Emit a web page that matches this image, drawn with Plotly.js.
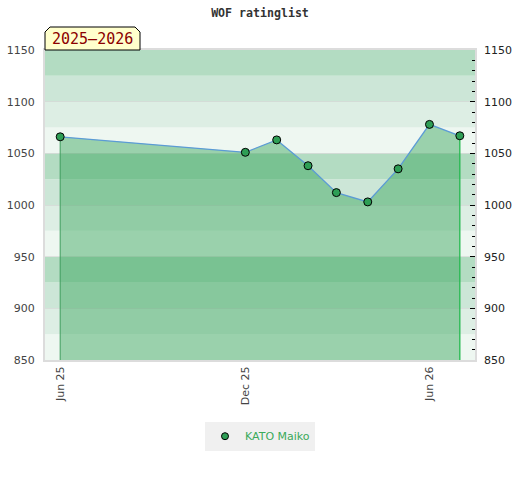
<!DOCTYPE html>
<html>
<head>
<meta charset="utf-8">
<script src="https://cdn.plot.ly/plotly-3.0.1.min.js"></script>
<style>html,body{margin:0;padding:0;background:#fff}#chart{width:520px;height:480px}</style>
</head>
<body>
<div id="chart"></div>
<script>
// ---- data ----
const playerName = "KATO Maiko";
const chartTitle = "WOF ratinglist";
const seasonLabel = "2025\u20132026";
const dates = ["2025-06-01","2025-12-01","2026-01-01","2026-02-01","2026-03-01","2026-04-01","2026-05-01","2026-06-01","2026-07-01"];
const ratings = [1066, 1051, 1063, 1038, 1012, 1003, 1035, 1078, 1067];
const yTickVals = [850, 900, 950, 1000, 1050, 1100, 1150];
const xTickVals = ["2025-06-01","2025-12-01","2026-06-01"];
const xTickText = ["Jun 25","Dec 25","Jun 26"];

// ---- style ----
const yMin = 850, yMax = 1150, bandStep = 25;
const bandColors = ["#eef7f1", "#ddeee4", "#cce6d7", "#b3dcc2"];
const shapes = [];
let k = 0;
for (let v = yMin; v < yMax; v += bandStep, k++) {
  shapes.push({type:"rect", xref:"paper", yref:"y", x0:0, x1:1, y0:v, y1:v+bandStep,
    fillcolor: bandColors[k % 4], line:{width:0}, layer:"below"});
}
// season label box with cut top corners (paper coords)
const bw = 95/430, bh = 23/310, c = 5/430, cy = 5/310;
shapes.push({type:"path", xref:"paper", yref:"paper",
  path:`M 0 1 L 0 ${1+bh-cy} L ${c} ${1+bh} L ${bw-c} ${1+bh} L ${bw} ${1+bh-cy} L ${bw} 1 Z`,
  fillcolor:"#ffffcc", line:{color:"#000", width:1}, layer:"above"});

const n = dates.length;
const traces = [
  { x: dates, y: ratings, type:"scatter", mode:"lines",
    fill:"tozeroy", fillcolor:"rgba(48,161,85,0.44)",
    line:{color:"#5b9bd5", width:1.3},
    showlegend:false, hoverinfo:"x+y" },
  { x:[dates[0], dates[0]], y:[yMin, ratings[0]], type:"scatter", mode:"lines",
    line:{color:"#3f9e5e", width:1}, showlegend:false, hoverinfo:"skip" },
  { x:[dates[n-1], dates[n-1]], y:[yMin, ratings[n-1]], type:"scatter", mode:"lines",
    line:{color:"#22b84e", width:1.3}, showlegend:false, hoverinfo:"skip" },
  { x: dates, y: ratings, type:"scatter", mode:"markers",
    marker:{color:"#2e9e55", size:8, line:{color:"#000", width:1}},
    showlegend:false, hoverinfo:"skip" },
  { x:[null], y:[null], type:"scatter", mode:"markers", name: playerName,
    marker:{color:"#2e9e55", size:7, line:{color:"#000", width:1}} },
  { x: dates, y: ratings, yaxis:"y2", type:"scatter", mode:"none",
    showlegend:false, hoverinfo:"skip" }
];

const layout = {
  width:520, height:480,
  margin:{l:45, r:45, t:50, b:120},
  paper_bgcolor:"#fff", plot_bgcolor:"#fff",
  title:{text:chartTitle, x:0.5, xanchor:"center", y:1-13/480, yanchor:"middle",
    font:{family:"DejaVu Sans Mono", size:11.6, color:"#333", weight:"bold"}},
  xaxis:{type:"date", range:["2025-05-17","2026-07-16"],
    tickvals:xTickVals, ticktext:xTickText, tickangle:-90,
    tickfont:{family:"DejaVu Sans", size:11, color:"#444"},
    showgrid:false, zeroline:false, ticks:"",
    showline:true, mirror:true, linecolor:"#dcdcdc", linewidth:2},
  yaxis:{range:[yMin, yMax], tickvals:yTickVals, ticks:"",
    tickfont:{family:"DejaVu Sans", size:11, color:"#444"},
    showgrid:true, gridcolor:"rgba(210,210,210,0.6)", gridwidth:1, zeroline:false,
    showline:true, mirror:true, linecolor:"#dcdcdc", linewidth:2, ticklabelstandoff:6},
  yaxis2:{overlaying:"y", side:"right", range:[yMin, yMax], tickvals:yTickVals,
    ticks:"inside", ticklen:5, tickcolor:"#000", tickwidth:1,
    minor:{dtick:10, ticks:"inside", ticklen:3, tickcolor:"#000", tickwidth:1},
    tickfont:{family:"DejaVu Sans", size:11, color:"#222"},
    showgrid:false, zeroline:false, showline:false, ticklabelstandoff:8},
  legend:{orientation:"h", x:0.5, xanchor:"center", y:-0.199, yanchor:"top",
    itemwidth:30, bgcolor:"#f0f0f0", font:{family:"DejaVu Sans", size:11, color:"#3aaa5a"}},
  shapes: shapes,
  annotations:[{xref:"paper", yref:"paper", x:bw/2, y:1+bh/2, xanchor:"center", yanchor:"middle",
    text:seasonLabel, showarrow:false,
    font:{family:"DejaVu Sans Mono", size:15, color:"#8b0000"}}]
};

Plotly.newPlot("chart", traces, layout, {displayModeBar:false, staticPlot:true});
</script>
</body>
</html>
